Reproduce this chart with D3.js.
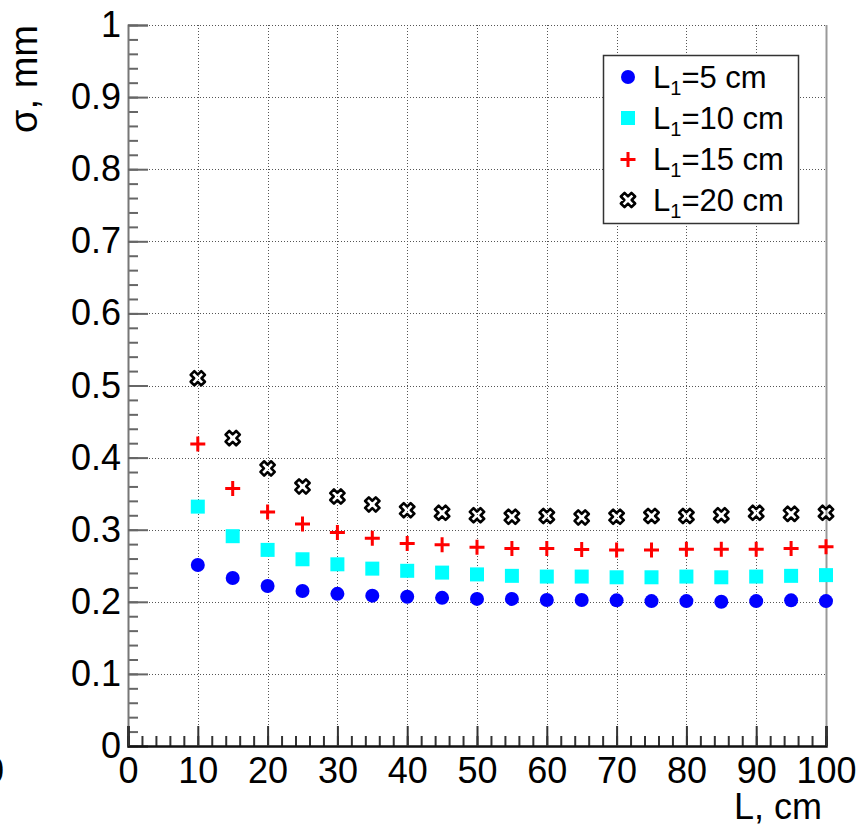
<!DOCTYPE html>
<html>
<head>
<meta charset="utf-8">
<script src="https://cdn.jsdelivr.net/npm/d3@7"></script>
<style>
  body { margin: 0; background: #fff; }
  svg { font-family: "Liberation Sans", Arial, sans-serif; }
</style>
</head>
<body>
<svg id="chart" width="865" height="830"></svg>
<script>
// data
const lengths = [10, 15, 20, 25, 30, 35, 40, 45, 50, 55, 60, 65, 70, 75, 80, 85, 90, 95, 100];
const sigma5 = [0.251, 0.233, 0.222, 0.215, 0.211, 0.2085, 0.207, 0.2055, 0.204, 0.204, 0.2025, 0.2025, 0.202, 0.201, 0.201, 0.200, 0.201, 0.202, 0.201];
const sigma10 = [0.332, 0.291, 0.272, 0.259, 0.252, 0.246, 0.243, 0.2405, 0.238, 0.236, 0.235, 0.235, 0.234, 0.234, 0.235, 0.234, 0.235, 0.236, 0.237];
const sigma15 = [0.419, 0.357, 0.3245, 0.308, 0.296, 0.288, 0.281, 0.279, 0.2755, 0.274, 0.274, 0.2725, 0.272, 0.272, 0.273, 0.273, 0.273, 0.274, 0.2765];
const sigma20 = [0.510, 0.427, 0.385, 0.360, 0.346, 0.335, 0.327, 0.3235, 0.320, 0.318, 0.319, 0.317, 0.318, 0.319, 0.319, 0.320, 0.3235, 0.322, 0.3235];
const seriesNames = ["5", "10", "15", "20"];
const xTicks = [0, 10, 20, 30, 40, 50, 60, 70, 80, 90, 100];
const yTicks = [0, 0.1, 0.2, 0.3, 0.4, 0.5, 0.6, 0.7, 0.8, 0.9, 1];

const series = [
    { name: seriesNames[0], values: sigma5, marker: "circle", color: "#0000ff" },
    { name: seriesNames[1], values: sigma10, marker: "square", color: "#00ffff" },
    { name: seriesNames[2], values: sigma15, marker: "plus", color: "#ff0000" },
    { name: seriesNames[3], values: sigma20, marker: "xopen", color: "#000000" }
];

const frame = { left: 128, right: 826, top: 25, bottom: 746 };

const x = d3.scaleLinear().domain([0, 100]).range([frame.left, frame.right]);
const y = d3.scaleLinear().domain([0, 1]).range([frame.bottom, frame.top]);

const svg = d3.select("#chart");

// grid
const grid = svg.append("g")
    .attr("stroke", "#555")
    .attr("stroke-width", 1)
    .attr("stroke-dasharray", "1,2");
grid.selectAll(".gx")
    .data(xTicks.slice(1))
    .join("line")
    .attr("x1", d => Math.round(x(d)) + 0.5)
    .attr("x2", d => Math.round(x(d)) + 0.5)
    .attr("y1", frame.top)
    .attr("y2", frame.bottom);
grid.selectAll(".gy")
    .data(yTicks.slice(1))
    .join("line")
    .attr("y1", d => Math.round(y(d)) + 0.5)
    .attr("y2", d => Math.round(y(d)) + 0.5)
    .attr("x1", frame.left)
    .attr("x2", frame.right);

// faint frame on right edge
svg.append("line")
    .attr("x1", frame.right + 0.5).attr("x2", frame.right + 0.5)
    .attr("y1", frame.top).attr("y2", frame.bottom)
    .attr("stroke", "#999").attr("stroke-width", 2);

// y axis
const yMinor = d3.range(0, 1.0001, 0.02);
svg.append("g")
    .attr("transform", `translate(${frame.left},0)`)
    .call(d3.axisLeft(y).tickValues(yMinor).tickSize(-10).tickFormat(""))
    .call(g => g.select(".domain").remove())
    .call(g => g.selectAll("line").attr("stroke", "#666").attr("stroke-width", 2));
svg.append("g")
    .attr("transform", `translate(${frame.left},0)`)
    .call(d3.axisLeft(y).tickValues(yTicks).tickSize(-20).tickPadding(7)
        .tickFormat(d => d === 0 || d === 1 ? d3.format("d")(d) : d3.format(".1f")(d)))
    .call(g => g.select(".domain").attr("stroke", "#777").attr("stroke-width", 2))
    .call(g => g.selectAll("line").attr("stroke", "#666").attr("stroke-width", 2))
    .call(g => g.selectAll("text").attr("font-size", 36).attr("fill", "#000")
        .attr("font-family", "Liberation Sans, Arial, sans-serif"));

// x axis
const xMinor = d3.range(0, 100.001, 2);
svg.append("g")
    .attr("transform", `translate(0,${frame.bottom})`)
    .call(d3.axisBottom(x).tickValues(xMinor).tickSize(-10).tickFormat(""))
    .call(g => g.select(".domain").remove())
    .call(g => g.selectAll("line").attr("stroke", "#333").attr("stroke-width", 2));
svg.append("g")
    .attr("transform", `translate(0,${frame.bottom})`)
    .call(d3.axisBottom(x).tickValues(xTicks).tickSize(-20).tickPadding(11).tickFormat(d3.format("d")))
    .call(g => g.select(".domain").attr("stroke", "#111").attr("stroke-width", 2.5))
    .call(g => g.selectAll("line").attr("stroke", "#333").attr("stroke-width", 2))
    .call(g => g.selectAll("text").attr("font-size", 36).attr("fill", "#000")
        .attr("font-family", "Liberation Sans, Arial, sans-serif"));

// axis titles
svg.append("text")
    .attr("transform", "translate(37,25)rotate(-90)")
    .attr("text-anchor", "end")
    .attr("font-size", 38)
    .text("σ, mm");
svg.append("text")
    .attr("x", 822)
    .attr("y", 819)
    .attr("text-anchor", "end")
    .attr("font-size", 36)
    .text("L, cm");
// clipped stray label at the left edge
svg.append("text")
    .attr("x", 4)
    .attr("y", 783)
    .attr("text-anchor", "end")
    .attr("font-size", 36)
    .text("0");

// markers
const xOpenPath = (() => {
    const h = 7.5, w = 2.6;
    const pts = [[-w, -h], [w, -h], [w, -w], [h, -w], [h, w], [w, w], [w, h], [-w, h], [-w, w], [-h, w], [-h, -w], [-w, -w]];
    const c = Math.SQRT1_2;
    return "M" + pts.map(([a, b]) => [(a - b) * c, (a + b) * c].map(v => v.toFixed(2)).join(",")).join("L") + "Z";
})();

const drawMarker = (g, s) => {
    if (s.marker === "circle") {
        g.append("circle").attr("r", 7).attr("fill", s.color);
    } else if (s.marker === "square") {
        g.append("rect").attr("x", -7).attr("y", -7).attr("width", 14).attr("height", 14).attr("fill", s.color);
    } else if (s.marker === "plus") {
        g.append("path").attr("d", "M-7.5,0H7.5M0,-7.5V7.5")
            .attr("stroke", s.color).attr("stroke-width", 3).attr("fill", "none");
    } else {
        g.append("path").attr("d", xOpenPath)
            .attr("stroke", s.color).attr("stroke-width", 2.6).attr("fill", "none")
            .attr("stroke-linejoin", "round");
    }
};

series.forEach(s => {
    svg.append("g")
        .selectAll("g")
        .data(lengths.map((l, i) => ({ l, v: s.values[i] })))
        .join("g")
        .attr("transform", d => `translate(${x(d.l)},${y(d.v)})`)
        .each(function () { drawMarker(d3.select(this), s); });
});

// legend
const legend = svg.append("g");
legend.append("rect")
    .attr("x", 603.5).attr("y", 55.5)
    .attr("width", 195).attr("height", 168)
    .attr("fill", "#fff")
    .attr("stroke", "#333").attr("stroke-width", 1.5);
const rowY = [77, 118, 159.5, 200];
series.forEach((s, i) => {
    const row = legend.append("g").attr("transform", `translate(0,${rowY[i]})`);
    const m = row.append("g").attr("transform", "translate(628,0)");
    drawMarker(m, s);
    const t = row.append("text").attr("x", 653).attr("y", 10.5).attr("font-size", 31);
    t.append("tspan").text("L");
    t.append("tspan").attr("font-size", 20).attr("dy", 7).text("1");
    t.append("tspan").attr("dy", -7).text(`=${s.name} cm`);
});
</script>
</body>
</html>
